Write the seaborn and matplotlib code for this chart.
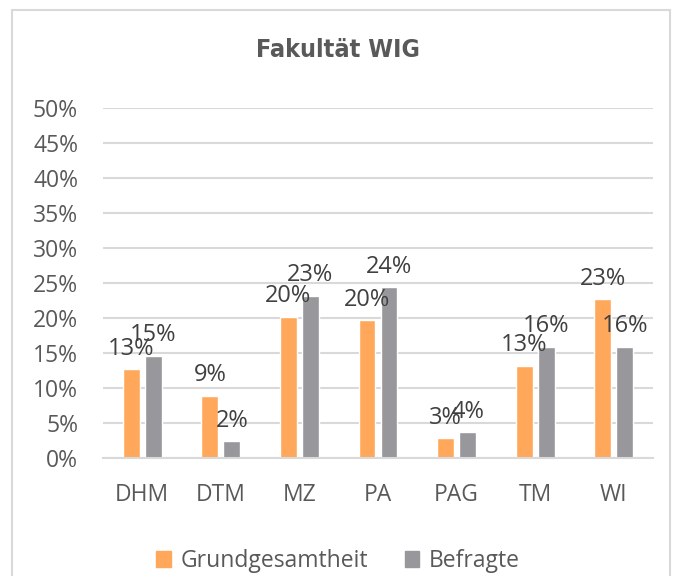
import numpy as np
import pandas as pd
import seaborn as sns
from matplotlib import pyplot as plt
import matplotlib.patches as patches

# Werte
faecher = ['DHM', 'DTM', 'MZ', 'PA', 'PAG', 'TM', 'WI']
grundgesamtheit = [0.127, 0.089, 0.202, 0.197, 0.028, 0.132, 0.227]
befragte = [0.146, 0.024, 0.232, 0.244, 0.037, 0.159, 0.159]
gruppen = ['Grundgesamtheit', 'Befragte']
farben = ['#FFA85B', '#97979C']
y_ticks = [0, 0.05, 0.10, 0.15, 0.20, 0.25, 0.30, 0.35, 0.40, 0.45, 0.50]

df = pd.DataFrame({
    'Fach': faecher * 2,
    'Anteil': grundgesamtheit + befragte,
    'Gruppe': [gruppen[0]] * len(faecher) + [gruppen[1]] * len(faecher),
})

sns.set_theme(style='white')
plt.rcParams['font.family'] = ['Open Sans', 'DejaVu Sans']

fig = plt.figure(figsize=(6.76, 5.76), dpi=100)
ax = fig.add_axes([103 / 676, 1 - 458 / 576, 550 / 676, 350 / 576])

# Rahmen um das ganze Diagramm
fig.patches.append(patches.Rectangle(
    (12 / 676, -0.1), 658 / 676, 1.1 - 10 / 576, transform=fig.transFigure,
    fill=False, edgecolor='#D9D9D9', linewidth=1.5))

sns.barplot(data=df, x='Fach', y='Anteil', hue='Gruppe', palette=farben,
            width=0.56, gap=0.23, ax=ax, legend=True, saturation=1)

ax.set_ylim(0, 0.5)
ax.set_yticks(y_ticks)
ax.set_yticklabels([f'{round(t * 100)}%' for t in y_ticks])
ax.yaxis.grid(True, color='#D9D9D9', linewidth=1.5)
ax.set_axisbelow(True)
for s in ['top', 'right', 'left']:
    ax.spines[s].set_visible(False)
ax.spines['bottom'].set_color('#D9D9D9')
ax.spines['bottom'].set_linewidth(1.5)
ax.tick_params(axis='y', length=0, pad=18, labelsize=16.5, labelcolor='#595959')
ax.tick_params(axis='x', length=0, pad=18, labelsize=16.5, labelcolor='#595959')
ax.set_xlabel('')
ax.set_ylabel('')
ax.set_xlim(-0.5, len(faecher) - 0.5)

# Datenbeschriftungen
for cont in ax.containers:
    ax.bar_label(cont, labels=[f'{round(b.get_height() * 100)}%' for b in cont],
                 padding=6, fontsize=17, color='#404040')

# Titel mittig über der ganzen Grafik
fig.text(0.5, 1 - 50 / 576, 'Fakultät WIG', ha='center', va='center',
         fontsize=18, fontweight='bold', color='#595959',
         family=['DejaVu Sans'], fontstretch='condensed')

ax.get_legend().remove()
handles = [patches.Patch(color=c) for c in farben]
fig.legend(handles, gruppen, loc='center', bbox_to_anchor=(0.5, 1 - 561 / 576),
           ncol=2, frameon=False, fontsize=16.5, labelcolor='#595959',
           handlelength=0.65, handleheight=0.65, handletextpad=0.4,
           columnspacing=1.6)

fig.savefig('out.png', dpi=100)
